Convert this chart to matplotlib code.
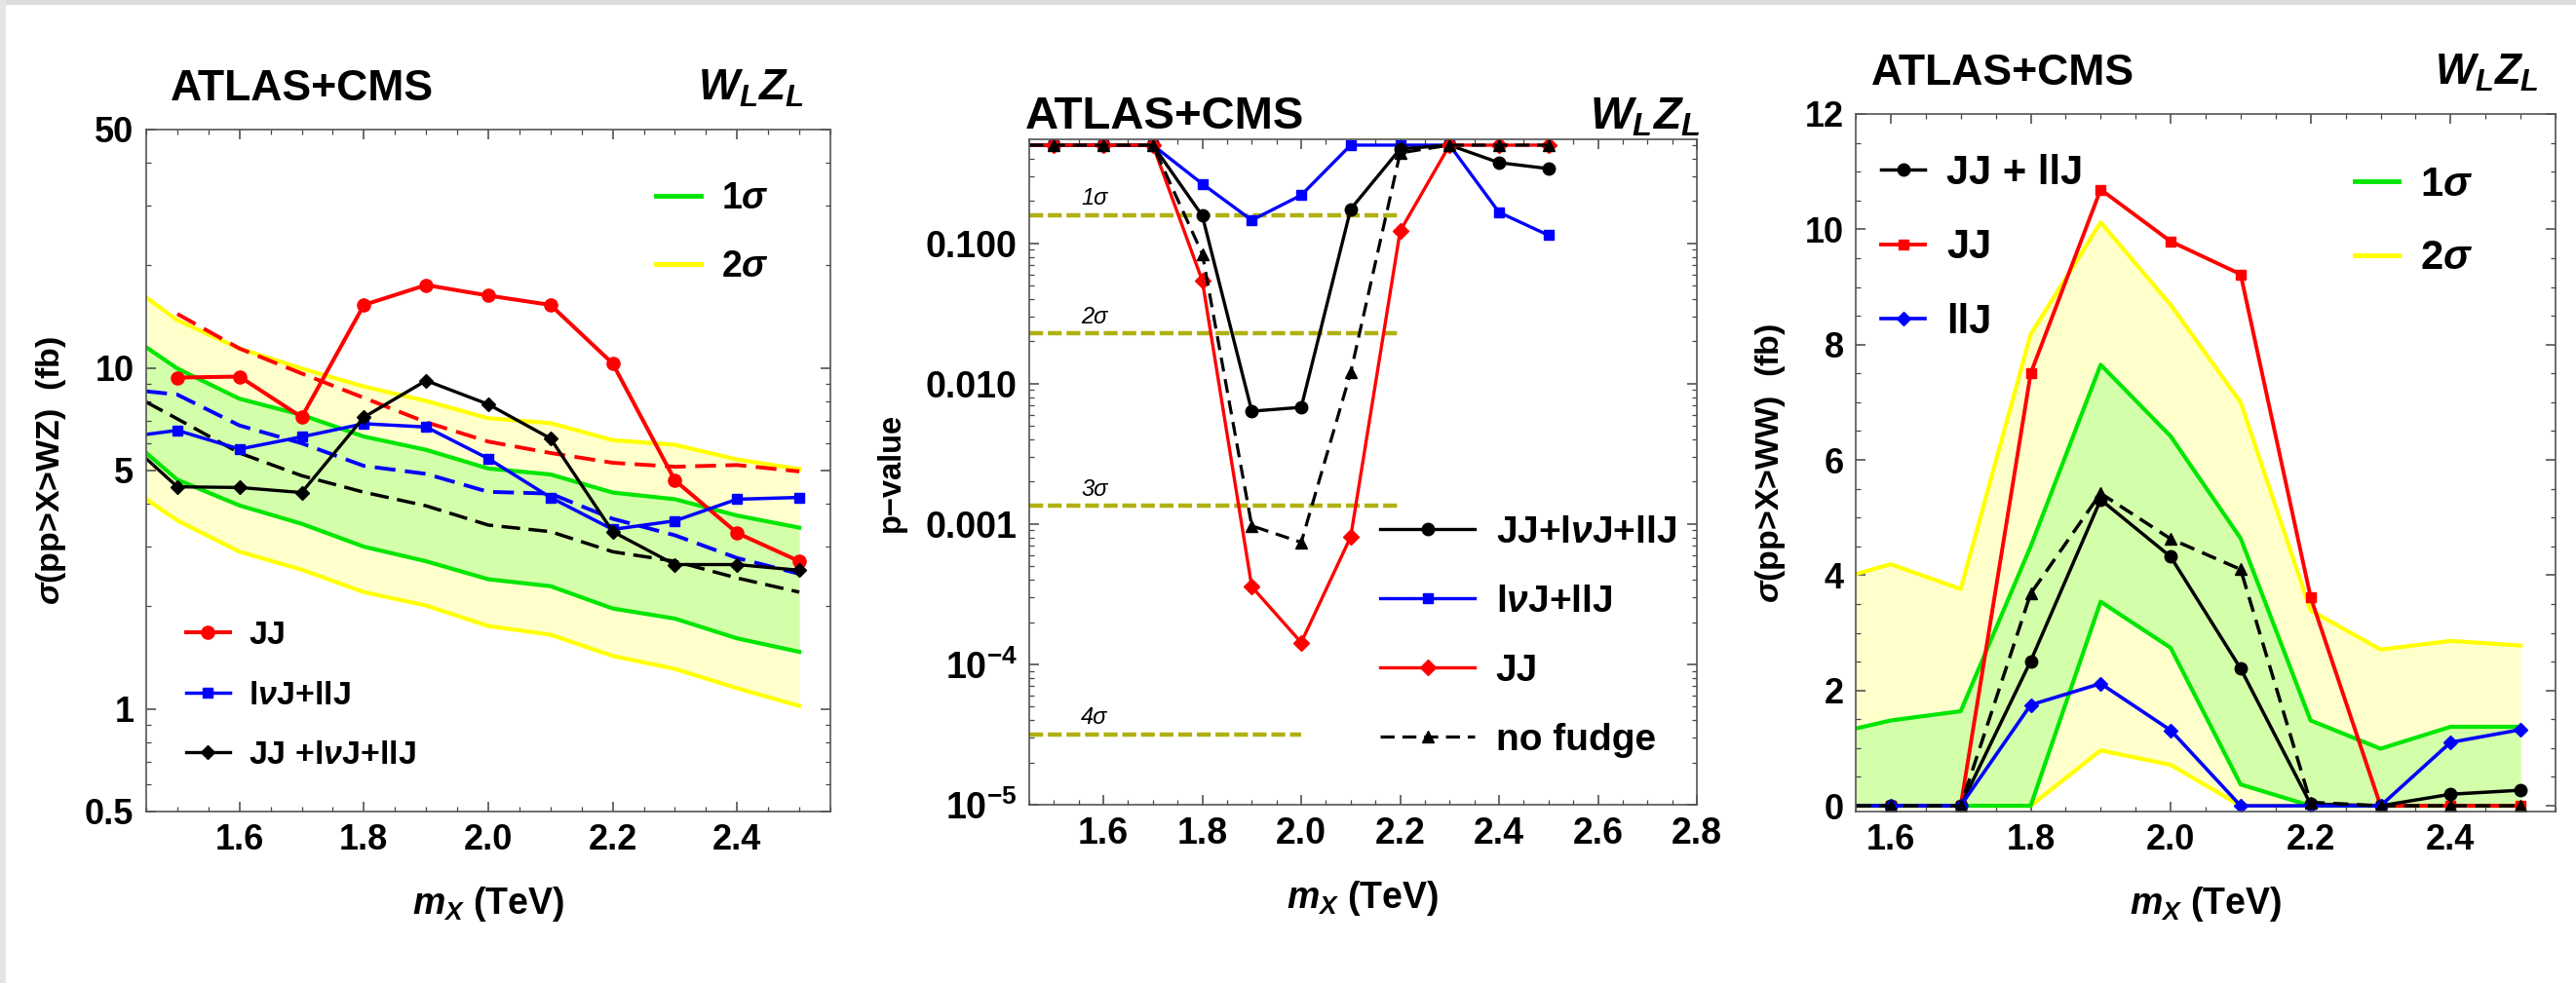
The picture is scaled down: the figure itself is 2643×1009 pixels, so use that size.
import numpy as np
from matplotlib import pyplot as plt
from matplotlib.lines import Line2D
from matplotlib.patches import Rectangle
from matplotlib.ticker import FixedLocator, MultipleLocator, LogLocator, NullFormatter, FormatStrFormatter

W, H = 2643, 1009

# left panel: sigma(pp > X > WZ) in fb, first x is the left edge of the frame
mx_wz = [1.45, 1.5, 1.6, 1.7, 1.8, 1.9, 2.0, 2.1, 2.2, 2.3, 2.4, 2.5]
wz_2s_up = [16.1, 13.8, 11.4, 9.96, 8.82, 8.0, 7.12, 6.89, 6.14, 5.95, 5.39, 5.05]
wz_1s_up = [11.5, 9.96, 8.12, 7.28, 6.29, 5.75, 5.07, 4.87, 4.31, 4.12, 3.69, 3.40]
wz_1s_lo = [5.63, 4.7, 3.95, 3.49, 2.99, 2.71, 2.40, 2.29, 1.97, 1.84, 1.61, 1.47]
wz_2s_lo = [4.12, 3.57, 2.89, 2.56, 2.20, 2.01, 1.75, 1.65, 1.43, 1.31, 1.15, 1.02]
wz_jj_exp = [14.4, 11.4, 9.63, 8.17, 6.93, 6.08, 5.63, 5.27, 5.13, 5.19, 4.97]  # from 1.5
wz_lvj_exp = [8.54, 8.35, 6.78, 6.01, 5.16, 4.89, 4.33, 4.28, 3.61, 3.23, 2.77, 2.49]
wz_all_exp = [7.94, 7.09, 5.63, 4.83, 4.32, 3.94, 3.46, 3.31, 2.89, 2.71, 2.42, 2.20]
wz_jj = [9.37, 9.43, 7.17, 15.3, 17.5, 16.3, 15.3, 10.3, 4.68, 3.28, 2.71]  # from 1.5
wz_lvj = [6.38, 6.56, 5.78, 6.28, 6.86, 6.71, 5.42, 4.17, 3.36, 3.56, 4.12, 4.17]
wz_all = [5.42, 4.48, 4.46, 4.31, 7.17, 9.18, 7.82, 6.21, 3.31, 2.65, 2.65, 2.55]

# middle panel: local p-values
mx_p = [1.45, 1.5, 1.6, 1.7, 1.8, 1.9, 2.0, 2.1, 2.2, 2.3, 2.4, 2.5]
p_all = [0.5, 0.5, 0.5, 0.5, 0.157, 0.00636, 0.00678, 0.175, 0.47, 0.5, 0.375, 0.34]
p_lvj = [0.5, 0.5, 0.5, 0.5, 0.265, 0.146, 0.22, 0.5, 0.5, 0.5, 0.166, 0.114]
p_jj = [0.5, 0.5, 0.5, 0.5, 0.054, 0.000357, 0.000143, 0.00081, 0.122, 0.5, 0.5, 0.5]
p_nofudge = [0.5, 0.5, 0.5, 0.5, 0.084, 0.00097, 0.00074, 0.012, 0.44, 0.5, 0.5, 0.5]
sig_p = [0.1587, 0.02275, 0.00135, 3.17e-5]
sig_names = ["1σ", "2σ", "3σ", "4σ"]
sig_end = [2.2, 2.2, 2.2, 2.0]

# right panel: sigma(pp > X > WW) in fb
mx_ww = [1.55, 1.6, 1.7, 1.8, 1.9, 2.0, 2.1, 2.2, 2.3, 2.4, 2.5]
ww_2s_up = [4.02, 4.19, 3.76, 8.18, 10.12, 8.69, 7.0, 3.39, 2.71, 2.86, 2.78]
ww_1s_up = [1.34, 1.48, 1.64, 4.5, 7.65, 6.41, 4.64, 1.48, 0.99, 1.37, 1.37]
ww_1s_lo = [0, 0, 0, 0, 3.54, 2.74, 0.37, 0, 0, 0, 0]
ww_2s_lo = [0, 0, 0, 0, 0.96, 0.71, 0, 0, 0, 0, 0]
ww_jj = [0, 0, 0, 7.5, 10.69, 9.79, 9.22, 3.62, 0, 0, 0]
ww_all = [0, 0, 0, 2.51, 5.31, 4.32, 2.38, 0.03, 0, 0.2, 0.27]
ww_nofudge = [0, 0, 0, 3.68, 5.42, 4.63, 4.10, 0.06, 0, 0, 0]
ww_llj = [0, 0, 0, 1.75, 2.12, 1.31, 0, 0, 0, 1.1, 1.32]

RED, BLUE, GREEN, YELLOW = "#ff0000", "#0000ff", "#00e600", "#ffff00"
YFILL, GFILL = "#ffffcc", "#d4ffaa"
OLIVE = "#b0b010"

plt.rcParams["font.family"] = ["Liberation Sans", "DejaVu Sans"]
plt.rcParams["font.weight"] = "bold"
plt.rcParams["axes.labelweight"] = "bold"
plt.rcParams["mathtext.fontset"] = "custom"
plt.rcParams["mathtext.rm"] = "Liberation Sans:bold"
plt.rcParams["mathtext.bf"] = "Liberation Sans:bold"
plt.rcParams["mathtext.it"] = "Liberation Sans:bold:italic"

fig = plt.figure(figsize=(W / 100, H / 100), dpi=100)
fig.add_artist(Rectangle((0, 1 - 5 / H), 1, 5 / H, transform=fig.transFigure, color="#dcdcdc", lw=0))
fig.add_artist(Rectangle((0, 0), 6 / W, 1, transform=fig.transFigure, color="#e4e4e4", lw=0))


def px_axes(x0, y0, x1, y1):
    return fig.add_axes([x0 / W, 1 - y1 / H, (x1 - x0) / W, (y1 - y0) / H])


def style(ax, fs):
    for s in ax.spines.values():
        s.set_color("#555555")
        s.set_linewidth(1.2)
    ax.tick_params(which="both", direction="in", top=True, right=True, color="#444444", labelsize=fs, pad=9)
    ax.tick_params(which="major", length=7, width=1.1)
    ax.tick_params(which="minor", length=3.8, width=0.9)
    ax.xaxis.set_major_locator(MultipleLocator(0.2))
    ax.xaxis.set_minor_locator(MultipleLocator(0.05))
    ax.xaxis.set_major_formatter(FormatStrFormatter("%.1f"))


def fig_legend(ax, handles, labels, x, y, fs, **kw):
    return ax.legend(handles, labels, loc="upper left", bbox_to_anchor=(x / W, 1 - y / H),
                     bbox_transform=fig.transFigure, frameon=False, borderpad=0, borderaxespad=0,
                     fontsize=fs, numpoints=1, **kw)


def titles(x_left, x_right, y, fs, fs2):
    fig.text(x_left / W, 1 - y / H, "ATLAS+CMS", fontsize=fs, va="baseline", ha="left")
    fig.text(x_right / W, 1 - y / H, "$W_L Z_L$", fontsize=fs2, va="baseline", ha="right")


dash = (5.5, 2.5)
mk = range(1, 12)

# ---- left panel
ax1 = px_axes(150, 133, 852, 833)
ax1.set_yscale("log")
ax1.fill_between(mx_wz, wz_2s_lo, wz_2s_up, color=YFILL, lw=0)
ax1.fill_between(mx_wz, wz_1s_lo, wz_1s_up, color=GFILL, lw=0)
for v, c in [(wz_2s_up, YELLOW), (wz_2s_lo, YELLOW), (wz_1s_up, GREEN), (wz_1s_lo, GREEN)]:
    ax1.plot(mx_wz, v, color=c, lw=3.0)
ax1.plot(mx_wz[1:], wz_jj_exp, color=RED, lw=2.8, dashes=dash)
ax1.plot(mx_wz, wz_lvj_exp, color=BLUE, lw=2.8, dashes=dash)
ax1.plot(mx_wz, wz_all_exp, color="black", lw=2.5, dashes=dash)
l_jj, = ax1.plot(mx_wz[1:], wz_jj, color=RED, lw=2.9, marker="o", ms=9.5)
l_lvj, = ax1.plot(mx_wz, wz_lvj, color=BLUE, lw=2.5, marker="s", ms=6.5, markevery=mk)
l_all, = ax1.plot(mx_wz, wz_all, color="black", lw=2.4, marker="D", ms=7.5, markevery=mk)
style(ax1, 26)
ax1.set_xlim(1.45, 2.55)
ax1.set_ylim(0.5, 50)
ax1.yaxis.set_major_locator(FixedLocator([0.5, 1, 5, 10, 50]))
ax1.yaxis.set_major_formatter(FormatStrFormatter("%g"))
ax1.yaxis.set_minor_locator(FixedLocator([0.6, 0.7, 0.8, 0.9, 2, 3, 4, 6, 7, 8, 9, 20, 30, 40]))
ax1.yaxis.set_minor_formatter(NullFormatter())
ax1.set_xlabel("$m_X$ (TeV)", fontsize=27, labelpad=20)
ax1.set_ylabel("$\\sigma$(pp>X>WZ)  (fb)", fontsize=24.5)
ax1.yaxis.set_label_coords(-0.114, 0.5)
leg = fig_legend(ax1, [Line2D([], [], color=GREEN, lw=3.5), Line2D([], [], color=YELLOW, lw=3.5)],
                 ["1$\\sigma$", "2$\\sigma$"], 673, 186, 27, handlelength=1.23, handletextpad=0.55, labelspacing=0.9)
ax1.add_artist(leg)
fig_legend(ax1, [l_jj, l_lvj, l_all], ["JJ", "l$\\nu$J+llJ", "JJ +l$\\nu$J+llJ"], 191, 637, 24.5,
           handlelength=1.32, handletextpad=0.56, labelspacing=0.9)
titles(175, 825, 103, 32, 32)

# ---- middle panel
ax2 = px_axes(1056, 143, 1741, 826)
ax2.set_yscale("log")
for p, name, end in zip(sig_p, sig_names, sig_end):
    ax2.hlines(p, 1.45, end, color=OLIVE, lw=3.2, linestyles=(0, (3.2, 1.1)))
    ax2.annotate(name, (1.582, p), xytext=(0, 4), textcoords="offset points", ha="center", va="bottom",
                 fontsize=17, fontweight="normal", fontstyle="italic")
l_plvj, = ax2.plot(mx_p, p_lvj, color=BLUE, lw=2.4, marker="s", ms=7, markevery=mk)
l_pall, = ax2.plot(mx_p, p_all, color="black", lw=2.4, marker="o", ms=9, markevery=mk)
l_pjj, = ax2.plot(mx_p, p_jj, color=RED, lw=2.4, marker="D", ms=8, markevery=mk)
l_pnf, = ax2.plot(mx_p, p_nofudge, color="black", lw=2.3, marker="^", ms=8.5, markevery=mk, dashes=(4.5, 2.5))
style(ax2, 27)
ax2.set_xlim(1.45, 2.8)
ax2.set_ylim(1e-5, 0.55)
ax2.yaxis.set_major_locator(FixedLocator([1e-5, 1e-4, 1e-3, 1e-2, 1e-1]))
ax2.set_yticklabels(["$10^{-5}$", "$10^{-4}$", "0.001", "0.010", "0.100"])
ax2.yaxis.set_minor_locator(LogLocator(base=10, subs=np.arange(2, 10)))
ax2.yaxis.set_minor_formatter(NullFormatter())
ax2.set_xlabel("$m_X$ (TeV)", fontsize=27, labelpad=20)
ax2.set_ylabel("p\u2212value", fontsize=23.5)
ax2.yaxis.set_label_coords(-0.184, 0.5)
fig_legend(ax2, [l_pall, l_plvj, l_pjj, l_pnf], ["JJ+l$\\nu$J+llJ", "l$\\nu$J+llJ", "JJ", "no fudge"],
           1416, 529, 28, handlelength=2.5, handletextpad=0.55, labelspacing=0.9)
titles(1052, 1744, 132, 34, 33.5)

# ---- right panel
ax3 = px_axes(1904, 117, 2622, 833)
ax3.fill_between(mx_ww, ww_2s_lo, ww_2s_up, color=YFILL, lw=0)
ax3.fill_between(mx_ww, ww_1s_lo, ww_1s_up, color=GFILL, lw=0)
for v, c in [(ww_2s_up, YELLOW), (ww_2s_lo, YELLOW), (ww_1s_up, GREEN), (ww_1s_lo, GREEN)]:
    ax3.plot(mx_ww, v, color=c, lw=3.0)
l_wjj, = ax3.plot(mx_ww, ww_jj, color=RED, lw=2.8, marker="s", ms=6.5, markevery=range(1, 11))
l_wall, = ax3.plot(mx_ww, ww_all, color="black", lw=2.5, marker="o", ms=9, markevery=range(1, 11))
l_wllj, = ax3.plot(mx_ww, ww_llj, color=BLUE, lw=2.6, marker="D", ms=7.5, markevery=range(1, 11))
ax3.plot(mx_ww, ww_nofudge, color="black", lw=2.5, marker="^", ms=8, markevery=range(1, 11), dashes=(4.5, 2.5))
style(ax3, 26)
ax3.set_xlim(1.55, 2.55)
ax3.set_ylim(-0.1, 12)
ax3.yaxis.set_major_locator(MultipleLocator(2))
ax3.yaxis.set_minor_locator(MultipleLocator(0.5))
ax3.yaxis.set_major_formatter(FormatStrFormatter("%d"))
ax3.set_xlabel("$m_X$ (TeV)", fontsize=27, labelpad=20)
ax3.set_ylabel("$\\sigma$(pp>X>WW)  (fb)", fontsize=24.5)
ax3.yaxis.set_label_coords(-0.0975, 0.5)
leg = fig_legend(ax3, [Line2D([], [], color=GREEN, lw=3.5), Line2D([], [], color=YELLOW, lw=3.5)],
                 ["1$\\sigma$", "2$\\sigma$"], 2416, 170, 30, handlelength=1.08, handletextpad=0.53, labelspacing=0.85)
ax3.add_artist(leg)
fig_legend(ax3, [l_wall, l_wjj, l_wllj], ["JJ + llJ", "JJ", "llJ"], 1930, 158, 30,
           handlelength=1.08, handletextpad=0.53, labelspacing=0.87)
titles(1920, 2605, 87, 32, 31.5)

fig.savefig("out.png", dpi=100)
